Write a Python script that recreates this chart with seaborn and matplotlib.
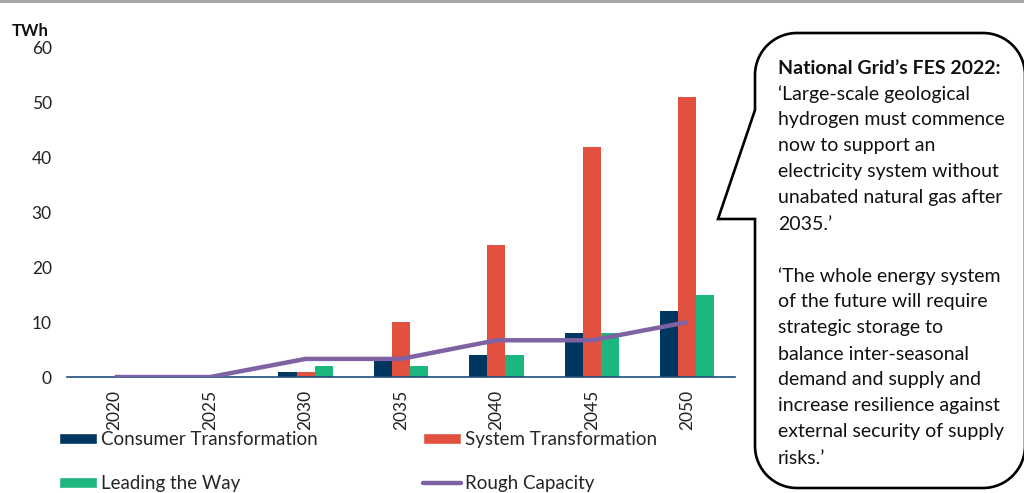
import numpy as np
import pandas as pd
import matplotlib
matplotlib.use("Agg")
import matplotlib.pyplot as plt
import seaborn as sns
from matplotlib.path import Path
from matplotlib.patches import PathPatch, Patch
from matplotlib.lines import Line2D

# ---- data (TWh) ----
years = ["2020", "2025", "2030", "2035", "2040", "2045", "2050"]
consumer_transformation = [0, 0, 1, 3, 4, 8, 12]
system_transformation = [0, 0, 1, 10, 24, 42, 51]
leading_the_way = [0, 0, 2, 2, 4, 8, 15]
rough_capacity = [0, 0, 3.3, 3.3, 6.7, 6.7, 10]

series_names = ["Consumer Transformation", "System Transformation", "Leading the Way"]
line_name = "Rough Capacity"

colors = {
    "Consumer Transformation": "#003660",
    "System Transformation": "#E2513F",
    "Leading the Way": "#1CB67F",
}
line_color = "#7E62A3"
axis_color = "#1F4E79"

quote_title = "National Grid\u2019s FES 2022:"
quote_lines = [
    "\u2018Large-scale geological",
    "hydrogen must commence",
    "now to support an",
    "electricity system without",
    "unabated natural gas after",
    "2035.\u2019",
    "",
    "\u2018The whole energy system",
    "of the future will require",
    "strategic storage to",
    "balance inter-seasonal",
    "demand and supply and",
    "increase resilience against",
    "external security of supply",
    "risks.\u2019",
]

df = pd.DataFrame({
    "year": np.repeat(years, 3),
    "scenario": series_names * len(years),
    "value": np.ravel(np.column_stack([consumer_transformation,
                                       system_transformation,
                                       leading_the_way])),
})

sns.set_style("white")
plt.rcParams["font.family"] = ["Lato", "DejaVu Sans"]

W, H = 1024, 493
fig = plt.figure(figsize=(W / 100, H / 100), dpi=100)


def fx(px):
    return px / W


def fy(py):
    return 1 - py / H


ax = fig.add_axes([fx(67), fy(377), fx(735) - fx(67), fy(48) - fy(377)])

sns.barplot(data=df, x="year", y="value", hue="scenario", order=years,
            hue_order=series_names, palette=colors, width=0.57,
            linewidth=0, saturation=1, legend=False, ax=ax, zorder=2)
sns.lineplot(x=np.arange(len(years)), y=rough_capacity, color=line_color,
             linewidth=3.2, ax=ax, zorder=3, solid_capstyle="butt")

ax.set_xlim(-0.5, len(years) - 0.5)
ax.set_ylim(0, 60)
ax.set_yticks(np.arange(0, 61, 10))
ax.set_xlabel("")
ax.set_ylabel("")
for s in ["top", "right", "left"]:
    ax.spines[s].set_visible(False)
ax.spines["bottom"].set_color(axis_color)
ax.spines["bottom"].set_linewidth(1.2)
ax.tick_params(axis="y", length=0, labelsize=12.5, labelcolor="#222222", pad=11)
ax.tick_params(axis="x", which="major", length=0, labelsize=12.5,
               labelcolor="#222222", labelrotation=90, pad=9)
ax.set_xticks(np.arange(-0.5, len(years)), minor=True)
ax.tick_params(axis="x", which="minor", length=5, width=1.2, color=axis_color,
               direction="out")

fig.text(fx(12), fy(31), "TWh", fontsize=12, fontweight="bold",
         va="center", ha="left", color="#111111")

# legend below the plot
handles = [
    Patch(facecolor=colors["Consumer Transformation"], label="Consumer Transformation"),
    Patch(facecolor=colors["Leading the Way"], label="Leading the Way"),
    Patch(facecolor=colors["System Transformation"], label="System Transformation"),
    Line2D([0], [0], color=line_color, linewidth=3.2, label=line_name),
]
fig.legend(handles=handles, ncol=2, loc="upper left",
           bbox_to_anchor=(fx(59), fy(431)), frameon=False, fontsize=13.5,
           handlelength=2.05, handleheight=0.5, handletextpad=0.2,
           columnspacing=5.6, labelspacing=1.45, borderaxespad=0,
           borderpad=0)

# callout box with pointer
L, R, T, B, r = 755, 1025, 33, 488, 42
k = 0.5523 * r
pts = [
    (L + r, T), (R - r, T),
    (R - r + k, T), (R, T + r - k), (R, T + r),
    (R, B - r),
    (R, B - r + k), (R - r + k, B), (R - r, B),
    (L + r, B),
    (L + r - k, B), (L, B - r + k), (L, B - r),
    (L, 219), (718, 219), (L, 110), (L, T + r),
    (L, T + r - k), (L + r - k, T), (L + r, T),
]
codes = [Path.MOVETO, Path.LINETO,
         Path.CURVE4, Path.CURVE4, Path.CURVE4,
         Path.LINETO,
         Path.CURVE4, Path.CURVE4, Path.CURVE4,
         Path.LINETO,
         Path.CURVE4, Path.CURVE4, Path.CURVE4,
         Path.LINETO, Path.LINETO, Path.LINETO, Path.LINETO,
         Path.CURVE4, Path.CURVE4, Path.CURVE4]
path = Path([(fx(x), fy(y)) for x, y in pts], codes)
fig.patches.append(PathPatch(path, transform=fig.transFigure, facecolor="white",
                             edgecolor="black", linewidth=1.9, clip_on=False))

line_step = 26
fig.text(fx(778), fy(68), quote_title, fontsize=14, fontweight="bold",
         va="center", ha="left", color="#111111")
for i, line in enumerate(quote_lines, start=1):
    if line:
        fig.text(fx(778), fy(68 + i * line_step), line, fontsize=14,
                 va="center", ha="left", color="#111111")

# thin grey rule along the top edge
fig.add_artist(Line2D([0, 1], [fy(1.2), fy(1.2)], transform=fig.transFigure,
                      color="#A6A6A6", linewidth=2.2))

fig.savefig("out.png", dpi=100, facecolor="white")
